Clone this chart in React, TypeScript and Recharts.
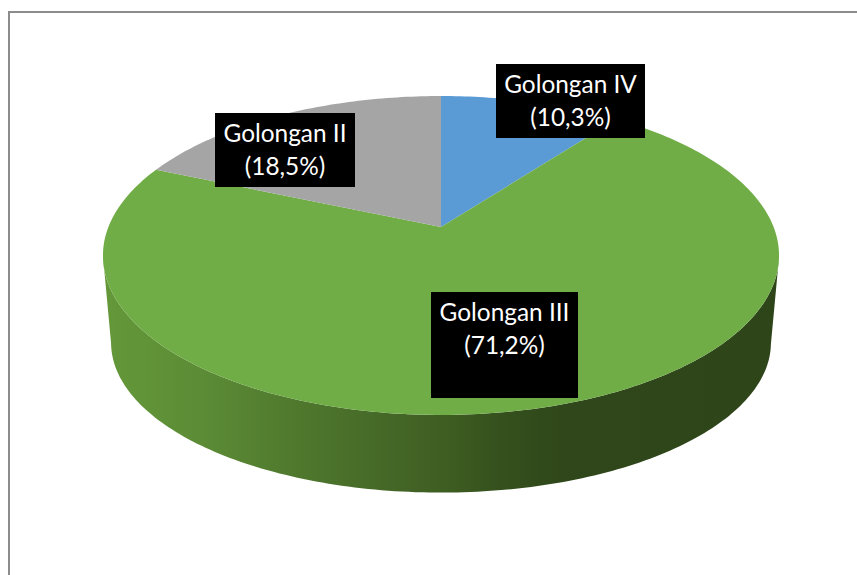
import { PieChart, Pie } from 'recharts';

const categories = ['Golongan IV', 'Golongan III', 'Golongan II'];
const shares = [10.3, 71.2, 18.5];
const faceColors = ['#5B9BD5', '#70AD47', '#A5A5A5'];
// x, y, w, h of the black label boxes, same order as categories
const labelBoxes = [
  [496, 64, 149, 74],
  [431, 292, 147, 106],
  [215, 113, 140, 74],
];

const rows = categories.map((name, i) => ({ name, value: shares[i], fill: faceColors[i] }));

// the pie lies on a tilted plane, so the centre sits above the middle of the ellipse
const CX = 441;
const CY = 227;
const RADIUS = 332.6;
const PERSP = 0.1787;
const TILT = 113.8;
const MID_Y = 255.5;
const DEPTH_Y = 87.2;
const DEPTH_SHRINK = 0.976;
const DEPTH_Y_SHRINK = 0.94;

function project(angle: number, r = 1): [number, number] {
  const a = (angle * Math.PI) / 180;
  const X = Math.cos(a) * r;
  const Y = -Math.sin(a) * r;
  const w = 1 - PERSP * Y;
  return [CX + (RADIUS * X) / w, (TILT * Y + CY) / w];
}

function lower([x, y]: [number, number]): [number, number] {
  return [CX + (x - CX) * DEPTH_SHRINK, MID_Y + DEPTH_Y + (y - MID_Y) * DEPTH_Y_SHRINK];
}

function rim(start: number, end: number) {
  const pts: number[] = [];
  const n = Math.max(2, Math.ceil(Math.abs(end - start)));
  for (let i = 0; i <= n; i++) pts.push(start + ((end - start) * i) / n);
  return pts;
}

const toPath = (pts: [number, number][]) =>
  pts.map((p, i) => `${i === 0 ? 'M' : 'L'}${p[0].toFixed(2)},${p[1].toFixed(2)}`).join(' ') + ' Z';

function TopFace(props: any) {
  const pts: [number, number][] = [[CX, CY], ...rim(props.startAngle, props.endAngle).map((a) => project(a))];
  return <path d={toPath(pts)} fill={props.fill} stroke="none" />;
}

function Wall(props: any) {
  const front = rim(props.startAngle, props.endAngle).filter((a) => -Math.sin((a * Math.PI) / 180) >= PERSP);
  if (front.length < 2) return <g />;
  const top = front.map((a) => project(a));
  const bottom = top.map(lower).reverse();
  return <path d={toPath([...top, ...bottom])} fill="url(#wallShade)" stroke="none" />;
}

function BoxLabel(props: any) {
  const [x, y, w, h] = labelBoxes[props.index];
  const mid = x + w / 2;
  const pct = `(${String(shares[props.index]).replace('.', ',')}%)`;
  return (
    <g>
      <rect x={x} y={y} width={w} height={h} fill="#000000" />
      <text x={mid} y={y + 29} textAnchor="middle" fill="#ffffff" fontFamily="Lato" fontSize={24.4}>
        {categories[props.index]}
      </text>
      <text x={mid} y={y + 62} textAnchor="middle" fill="#ffffff" fontFamily="Lato" fontSize={24.4}>
        {pct}
      </text>
    </g>
  );
}

export default function App() {
  return (
    <div style={{ position: 'absolute', left: 0, top: 0, width: 857, height: 575, overflow: 'hidden', background: '#fff' }}>
      <div
        style={{
          position: 'absolute',
          left: 8,
          top: 11,
          width: 900,
          height: 620,
          borderLeft: '2px solid #8c8c8c',
          borderTop: '2px solid #8c8c8c',
        }}
      />
      <div style={{ position: 'absolute', left: 0, top: 0 }}>
        <PieChart width={857} height={575} margin={{ top: 0, right: 0, bottom: 0, left: 0 }}>
          <defs>
            <linearGradient id="wallShade" gradientUnits="userSpaceOnUse" x1={102} y1={0} x2={779} y2={0}>
              <stop offset="0" stopColor="#649839" />
              <stop offset="0.145" stopColor="#5c8c36" />
              <stop offset="0.29" stopColor="#4f782d" />
              <stop offset="0.44" stopColor="#436526" />
              <stop offset="0.5" stopColor="#3f5f22" />
              <stop offset="0.59" stopColor="#35501d" />
              <stop offset="0.68" stopColor="#2f471a" />
              <stop offset="1" stopColor="#2e451a" />
            </linearGradient>
          </defs>
          <Pie
            data={rows}
            dataKey="value"
            nameKey="name"
            cx={CX}
            cy={CY}
            outerRadius={RADIUS}
            startAngle={90}
            endAngle={-270}
            stroke="none"
            shape={Wall}
            label={false}
            labelLine={false}
            isAnimationActive={false}
          />
          <Pie
            data={rows}
            dataKey="value"
            nameKey="name"
            cx={CX}
            cy={CY}
            outerRadius={RADIUS}
            startAngle={90}
            endAngle={-270}
            stroke="none"
            shape={TopFace}
            label={BoxLabel}
            labelLine={false}
            isAnimationActive={false}
          />
        </PieChart>
      </div>
    </div>
  );
}
